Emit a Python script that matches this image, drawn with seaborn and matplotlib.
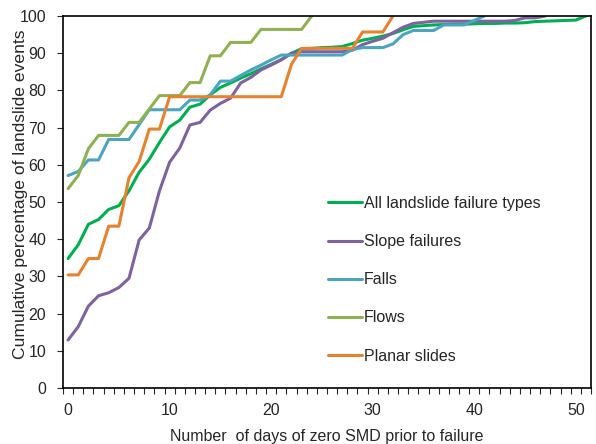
import matplotlib
matplotlib.use("Agg")
from matplotlib import pyplot as plt
import numpy as np
import pandas as pd
import seaborn as sns

# cumulative % of landslide events vs days of zero SMD (series stop once they hit 100)
all_types = [34.8, 38.5, 44.0, 45.3, 48.0, 49.0, 53.0, 58.0, 61.5, 66.0,
             70.2, 72.0, 75.5, 76.3, 78.8, 80.8, 82.0, 83.3, 84.5, 85.8,
             87.0, 88.3, 90.0, 91.2, 91.3, 91.5, 91.6, 91.8, 92.6, 93.5,
             94.0, 94.6, 95.3, 96.3, 97.2, 97.4, 97.6, 97.7, 97.8, 97.8,
             97.9, 98.0, 98.0, 98.1, 98.1, 98.2, 98.5, 98.6, 98.7, 98.8,
             98.9, 100.0]
slope = [12.9, 16.5, 22.0, 24.8, 25.6, 27.0, 29.5, 39.8, 43.0, 53.0,
         60.7, 64.5, 70.7, 71.4, 74.7, 76.5, 77.9, 82.0, 83.5, 85.5,
         86.8, 88.2, 90.0, 90.4, 90.4, 90.4, 90.4, 90.4, 90.8, 92.3,
         93.2, 94.0, 95.5, 97.0, 98.0, 98.3, 98.6, 98.6, 98.6, 98.6,
         98.6, 98.6, 98.6, 98.6, 98.8, 99.5, 99.5, 100.0]
falls = [57.1, 58.2, 61.3, 61.3, 66.8, 66.8, 66.8, 70.8, 74.8, 74.8,
         74.8, 74.8, 77.4, 77.4, 78.8, 82.5, 82.5, 84.0, 85.5, 86.8,
         88.2, 89.5, 89.5, 89.5, 89.5, 89.5, 89.5, 89.5, 91.0, 91.5,
         91.5, 91.5, 92.5, 95.0, 96.1, 96.1, 96.1, 97.6, 97.6, 97.6,
         98.8, 100.0]
flows = [53.6, 57.1, 64.3, 67.9, 67.9, 67.9, 71.4, 71.4, 75.0, 78.6,
         78.6, 78.6, 82.1, 82.1, 89.3, 89.3, 92.9, 92.9, 92.9, 96.4,
         96.4, 96.4, 96.4, 96.4, 100.0]
planar = [30.4, 30.4, 34.8, 34.8, 43.5, 43.5, 56.5, 60.9, 69.6, 69.6,
          78.3, 78.3, 78.3, 78.3, 78.3, 78.3, 78.3, 78.3, 78.3, 78.3,
          78.3, 78.3, 87.0, 91.3, 91.3, 91.3, 91.3, 91.3, 91.3, 95.7,
          95.7, 95.7, 100.0]

names = ["All landslide failure types", "Slope failures", "Falls", "Flows", "Planar slides"]
colors = ["#00B050", "#7E62A1", "#4BA5C2", "#8FB152", "#E8822E"]
series = [all_types, slope, falls, flows, planar]

rows = []
for name, vals in zip(names, series):
    for d, v in enumerate(vals):
        rows.append((d, v, name))
df = pd.DataFrame(rows, columns=["days", "pct", "type"])

sns.set_style("white")
plt.rcParams["font.family"] = ["Liberation Sans", "DejaVu Sans"]

fig = plt.figure(figsize=(5.96, 4.44), dpi=100)
ax = fig.add_axes([63 / 596, 56 / 444, 528 / 596, 372 / 444])

sns.lineplot(data=df, x="days", y="pct", hue="type", hue_order=names,
             palette=dict(zip(names, colors)), linewidth=2.2, ax=ax)

ax.set_xlim(-0.5, 51.5)
ax.set_ylim(0, 100)
ax.set_xticks(range(0, 51, 10))
ax.set_xticks(np.arange(-0.5, 52, 1), minor=True)
ax.set_yticks(range(0, 101, 10))
ax.tick_params(axis="x", which="major", length=0, labelsize=11.5, pad=11)
ax.tick_params(axis="x", which="minor", length=4, width=0.8, direction="out", bottom=True)
ax.tick_params(axis="y", length=4, width=0.8, direction="out", left=True, labelsize=11.5, pad=8)
for sp in ax.spines.values():
    sp.set_color("black")
    sp.set_linewidth(1.2)

ax.set_xlabel("Number  of days of zero SMD prior to failure", fontsize=11.5, labelpad=8)
ax.set_ylabel("Cumulative percentage of landslide events", fontsize=12.6)
ax.yaxis.set_label_coords(-0.066, 0.52)

ax.legend(loc="upper left", bbox_to_anchor=(328 / 596, 1 - 196 / 444),
          bbox_transform=fig.transFigure, frameon=False, fontsize=11.5,
          handlelength=2.1, handletextpad=0.15, labelspacing=1.45,
          borderpad=0, borderaxespad=0)

fig.savefig("out.png", dpi=100)
